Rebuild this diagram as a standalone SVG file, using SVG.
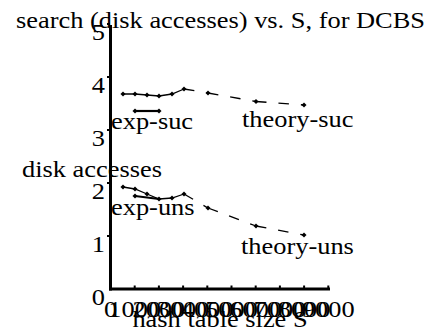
<svg xmlns="http://www.w3.org/2000/svg" width="435" height="333" viewBox="0 0 435 333">
  <style>
    .axis { stroke: #000; stroke-width: 3; fill: none; }
    .tick { stroke: #000; stroke-width: 2; fill: none; }
    .exp { stroke: #000; stroke-width: 1.3; fill: none; }
    .legend { stroke: #000; stroke-width: 2.2; fill: none; }
    .theory { stroke: #000; stroke-width: 1.3; fill: none; stroke-dasharray: 10.5 12; }
  </style>
  <defs>
    <g id="dot"><rect x="-1.8" y="-1.8" width="3.6" height="3.6" transform="rotate(45)"/></g>
  </defs>

  <g font-family="Liberation Serif, Times New Roman, Times, serif" font-size="24" fill="#000">
  <!-- title and axis captions -->
  <g id="title"><text transform="translate(220.5,28) scale(1.1,1)" text-anchor="middle">search (disk accesses) vs. S, for DCBS</text></g>
  <g id="y-caption"><text transform="translate(22,177) scale(1.1,1)">disk accesses</text></g>
  <g id="x-caption"><text transform="translate(220,327) scale(1.1,1)" text-anchor="middle">hash table size S</text></g>

  <!-- axes -->
  <g id="axes">
    <line class="axis" x1="110.5" y1="25" x2="110.5" y2="290.5"/>
    <line class="axis" x1="109" y1="289" x2="330" y2="289"/>
    <!-- y ticks -->
    <line class="tick" x1="107" y1="24" x2="110" y2="24"/>
    <line class="tick" x1="107" y1="77" x2="110" y2="77"/>
    <line class="tick" x1="107" y1="130" x2="110" y2="130"/>
    <line class="tick" x1="107" y1="183" x2="110" y2="183"/>
    <line class="tick" x1="107" y1="236" x2="110" y2="236"/>
    <!-- x ticks -->
    <line class="tick" x1="134.7" y1="285.5" x2="134.7" y2="288"/>
    <line class="tick" x1="158.9" y1="285.5" x2="158.9" y2="288"/>
    <line class="tick" x1="183.1" y1="285.5" x2="183.1" y2="288"/>
    <line class="tick" x1="207.3" y1="285.5" x2="207.3" y2="288"/>
    <line class="tick" x1="231.5" y1="285.5" x2="231.5" y2="288"/>
    <line class="tick" x1="255.7" y1="285.5" x2="255.7" y2="288"/>
    <line class="tick" x1="279.9" y1="285.5" x2="279.9" y2="288"/>
    <line class="tick" x1="304.1" y1="285.5" x2="304.1" y2="288"/>
    <line class="tick" x1="328.3" y1="285.5" x2="328.3" y2="288"/>
  </g>

  <!-- y tick labels -->
  <g id="y-labels">
    <text transform="translate(105,40) scale(1.1,1)" text-anchor="end">5</text>
    <text transform="translate(105,93) scale(1.1,1)" text-anchor="end">4</text>
    <text transform="translate(105,146) scale(1.1,1)" text-anchor="end">3</text>
    <text transform="translate(105,199) scale(1.1,1)" text-anchor="end">2</text>
    <text transform="translate(105,252) scale(1.1,1)" text-anchor="end">1</text>
    <text transform="translate(105,305) scale(1.1,1)" text-anchor="end">0</text>
  </g>

  <!-- x tick labels -->
  <g id="x-labels">
    <text transform="translate(110.5,317) scale(1.1,1)" text-anchor="middle">0</text>
    <text transform="translate(134.7,317) scale(1.1,1)" text-anchor="middle">1000</text>
    <text transform="translate(158.9,317) scale(1.1,1)" text-anchor="middle">2000</text>
    <text transform="translate(183.1,317) scale(1.1,1)" text-anchor="middle">3000</text>
    <text transform="translate(207.3,317) scale(1.1,1)" text-anchor="middle">4000</text>
    <text transform="translate(231.5,317) scale(1.1,1)" text-anchor="middle">5000</text>
    <text transform="translate(255.7,317) scale(1.1,1)" text-anchor="middle">6000</text>
    <text transform="translate(279.9,317) scale(1.1,1)" text-anchor="middle">7000</text>
    <text transform="translate(304.1,317) scale(1.1,1)" text-anchor="middle">8000</text>
    <text transform="translate(328.3,317) scale(1.1,1)" text-anchor="middle">9000</text>
  </g>

  <!-- data series -->
  <g id="connectors">
    <polyline class="exp" points="123,94 135,94 147,95 159,96 172,94 184,89"/>
    <polyline class="exp" points="123,187 135,189 147,194 159,199 172,198 184,194"/>
    <line class="theory" x1="184" y1="89" x2="208" y2="93"/>
    <line class="theory" x1="208" y1="93" x2="256" y2="101.5"/>
    <line class="theory" x1="256" y1="101.5" x2="304" y2="105"/>
    <line class="theory" x1="184" y1="194" x2="208" y2="208"/>
    <line class="theory" x1="208" y1="208" x2="256" y2="226"/>
    <line class="theory" x1="256" y1="226" x2="304" y2="235"/>
    <line class="legend" x1="135" y1="111" x2="159" y2="111"/>
    <line class="legend" x1="135" y1="196" x2="159" y2="199"/>
  </g>

  <g id="exp-suc">
    <use href="#dot" x="123" y="94"/><use href="#dot" x="135" y="94"/><use href="#dot" x="147" y="95"/>
    <use href="#dot" x="159" y="96"/><use href="#dot" x="172" y="94"/><use href="#dot" x="184" y="89"/>
    <use href="#dot" x="135" y="111"/><use href="#dot" x="159" y="111"/>
    <text transform="translate(111,129) scale(1.1,1)">exp-suc</text>
  </g>
  <g id="theory-suc">
    <use href="#dot" x="208" y="93"/><use href="#dot" x="256" y="101.5"/><use href="#dot" x="304" y="105"/>
    <text transform="translate(242,127) scale(1.1,1)">theory-suc</text>
  </g>
  <g id="exp-uns">
    <use href="#dot" x="123" y="187"/><use href="#dot" x="135" y="189"/><use href="#dot" x="147" y="194"/>
    <use href="#dot" x="159" y="199"/><use href="#dot" x="172" y="198"/><use href="#dot" x="184" y="194"/>
    <use href="#dot" x="135" y="196"/>
    <text transform="translate(111,215) scale(1.1,1)">exp-uns</text>
  </g>
  <g id="theory-uns">
    <use href="#dot" x="208" y="208"/><use href="#dot" x="256" y="226"/><use href="#dot" x="304" y="235"/>
    <text transform="translate(241,254) scale(1.1,1)">theory-uns</text>
  </g>
  </g>
</svg>
